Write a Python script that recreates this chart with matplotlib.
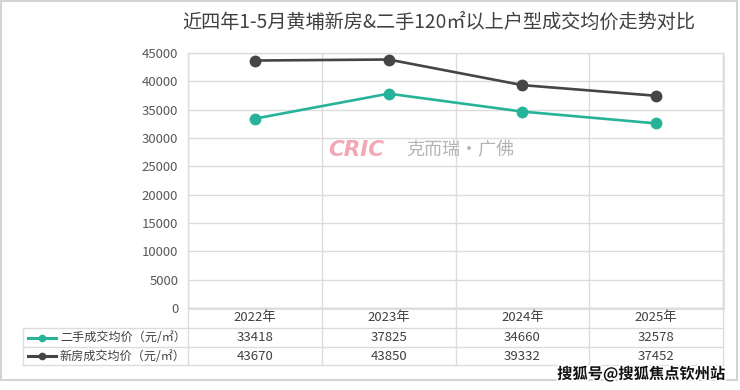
import matplotlib
matplotlib.use("Agg")
import matplotlib.pyplot as plt
from matplotlib.patches import Rectangle
from matplotlib.lines import Line2D
import matplotlib.patheffects as pe

plt.rcParams['font.family'] = ['Noto Sans CJK SC', 'DejaVu Sans']

title = "近四年1-5月黄埔新房&二手120㎡以上户型成交均价走势对比"
categories = ["2022年", "2023年", "2024年", "2025年"]
second_hand = [33418, 37825, 34660, 32578]
new_house = [43670, 43850, 39332, 37452]
series_names = ["二手成交均价（元/㎡）", "新房成交均价（元/㎡）"]
yticks = [0, 5000, 10000, 15000, 20000, 25000, 30000, 35000, 40000, 45000]

W, H = 740, 390
fig = plt.figure(figsize=(W / 100, H / 100), dpi=100)

def fx(px):
    return px / W

def fy(py):
    return 1 - py / H

# figure border
fig.patches.append(Rectangle((fx(1), fy(380)), fx(736), 379 / H, transform=fig.transFigure,
                             fill=False, edgecolor="#d4d4d4", linewidth=1.5, zorder=-2))

L, R, T, B = 188, 723, 53, 308
# shadow of plot area
fig.patches.append(Rectangle((fx(L + 2), fy(B + 2)), fx(R - L), (B - T) / H, transform=fig.transFigure,
                             facecolor="#e3e3e3", edgecolor="none", zorder=-1))
ax = fig.add_axes([fx(L), fy(B), fx(R - L), (B - T) / H])
ax.set_facecolor("white")

x = list(range(len(categories)))
teal = "#27b398"
dark = "#454545"
ax.plot(x, new_house, color=dark, lw=1.9, marker="o", ms=7.5, zorder=3, clip_on=False)
ax.plot(x, second_hand, color=teal, lw=1.9, marker="o", ms=7.5, zorder=3, clip_on=False)

ax.set_xlim(-0.5, len(categories) - 0.5)
ax.set_ylim(0, 45000)
ax.set_yticks(yticks)
ax.set_yticklabels([str(v) for v in yticks], fontsize=9.5, color="#595959")
ax.set_xticks([])
grid_c = "#dcdcdc"
for v in yticks:
    ax.axhline(v, color=grid_c, lw=1, zorder=1)
for b in [i - 0.5 for i in range(len(categories) + 1)]:
    ax.axvline(b, color=grid_c, lw=1, zorder=1)
for s in ax.spines.values():
    s.set_color(grid_c)
    s.set_linewidth(1)
ax.tick_params(axis="y", length=0, pad=7)

# title
fig.text(fx(439), fy(22), title, ha="center", va="center", fontsize=13.8, color="#404040")

# table
rows = [308, 328, 347, 365]
TL = 23
col_b = [L + i * (R - L) / len(categories) for i in range(len(categories) + 1)]
for i, yb in enumerate(rows):
    x0 = L if i == 0 else TL
    fig.lines.append(Line2D([fx(x0), fx(R)], [fy(yb), fy(yb)], transform=fig.transFigure,
                            color=grid_c, lw=1))
for xb in col_b:
    fig.lines.append(Line2D([fx(xb), fx(xb)], [fy(308), fy(365)], transform=fig.transFigure,
                            color=grid_c, lw=1))
fig.lines.append(Line2D([fx(TL), fx(TL)], [fy(328), fy(365)], transform=fig.transFigure,
                        color=grid_c, lw=1))

for i, c in enumerate(categories):
    cx = (col_b[i] + col_b[i + 1]) / 2
    fig.text(fx(cx), fy(318), c, ha="center", va="center", fontsize=9.5, color="#404040")
    fig.text(fx(cx), fy(337.5), str(second_hand[i]), ha="center", va="center", fontsize=9.5, color="#404040")
    fig.text(fx(cx), fy(356), str(new_house[i]), ha="center", va="center", fontsize=9.5, color="#404040")

for yc, col, name in [(337.5, teal, series_names[0]), (356, dark, series_names[1])]:
    fig.lines.append(Line2D([fx(28), fx(56)], [fy(yc), fy(yc)], transform=fig.transFigure,
                            color=col, lw=2.2))
    fig.lines.append(Line2D([fx(42)], [fy(yc)], transform=fig.transFigure,
                            color=col, marker="o", ms=4.5, lw=0))
    fig.text(fx(60), fy(yc), name, ha="left", va="center", fontsize=8.7, color="#404040")

# CRIC watermark
fig.text(fx(328), fy(150), "CRIC", ha="left", va="center", fontsize=15.5, color="#f4a7b5",
         fontweight="heavy", style="italic", family=["DejaVu Sans"])
fig.text(fx(406), fy(150), "克而瑞·广佛", ha="left", va="center", fontsize=13, color="#b5b5b5")

# bottom-right watermark
fig.text(fx(725), fy(374), "搜狐号@搜狐焦点钦州站", ha="right", va="center", fontsize=11,
         color="#111111", fontweight="bold",
         path_effects=[pe.withStroke(linewidth=2.5, foreground="white")])

fig.savefig("out.png", dpi=100, facecolor="white")
